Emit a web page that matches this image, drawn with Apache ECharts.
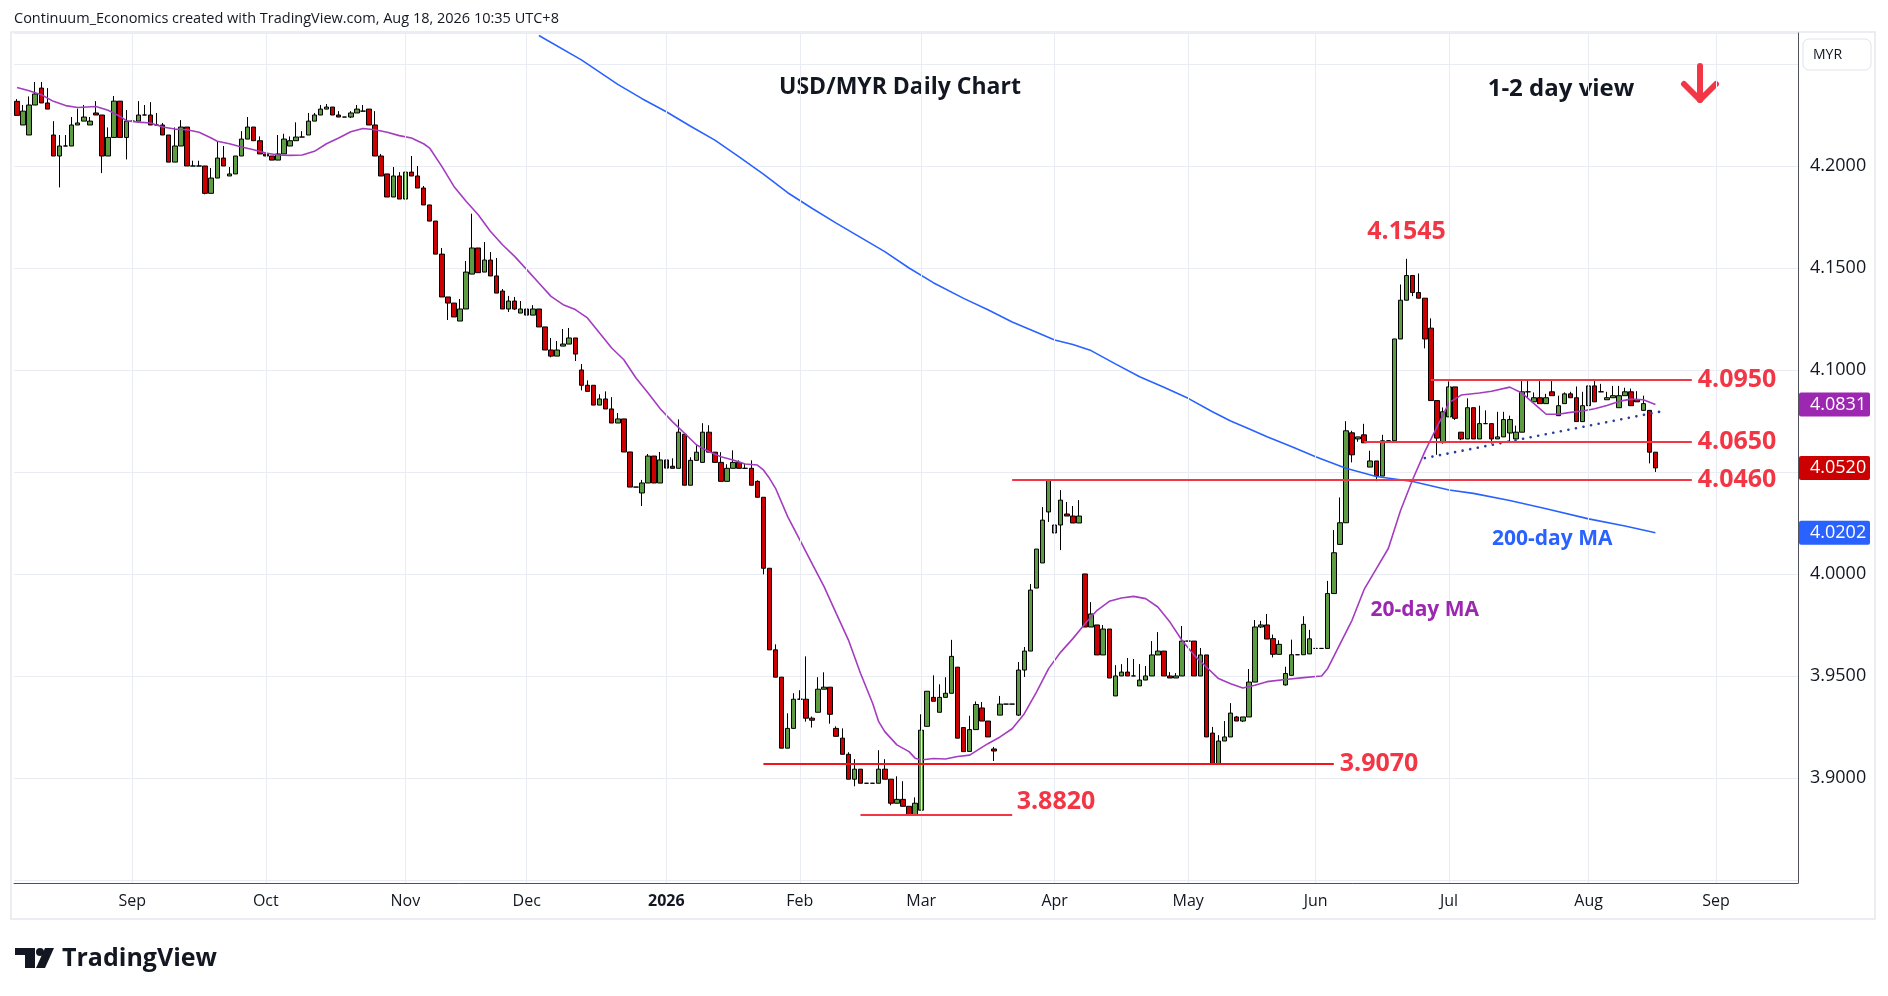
<!DOCTYPE html>
<html>
<head>
<meta charset="utf-8">
<title>USD/MYR Daily Chart</title>
<script src="https://cdn.jsdelivr.net/npm/echarts@6/dist/echarts.min.js"></script>
<style>
  html, body { margin: 0; padding: 0; background: #fff; }
  #chart { width: 1888px; height: 996px; }
</style>
</head>
<body>
<div id="chart"></div>
<script>
// weekday sessions, first bar 2025-08-05, slots run on past the last bar
const firstDay = [2025, 7, 5]
const slotCount = 294
const dates = []
;(function () {
  const d = new Date(Date.UTC(firstDay[0], firstDay[1], firstDay[2]))
  while (dates.length < slotCount) {
    const w = d.getUTCDay()
    if (w !== 0 && w !== 6) dates.push(d.toISOString().slice(0, 10))
    d.setUTCDate(d.getUTCDate() + 1)
  }
})()

const monthNames = ['Jan', 'Feb', 'Mar', 'Apr', 'May', 'Jun', 'Jul', 'Aug', 'Sep', 'Oct', 'Nov', 'Dec']

// daily bars: [open, high, low, close]
const ohlc = [
  // Aug 2025
  [4.2317, 4.2328, 4.2248, 4.2248], [4.2201, 4.2299, 4.2201, 4.2269], [4.2152, 4.2341, 4.2152, 4.2299],
  [4.2299, 4.2412, 4.2299, 4.2353], [4.2382, 4.2412, 4.2309, 4.2309], [4.2309, 4.2382, 4.2279, 4.2279],
  [4.2152, 4.2220, 4.2049, 4.2049], [4.2049, 4.2152, 4.1895, 4.2098], [4.2098, 4.2152, 4.2098, 4.2098],
  [4.2098, 4.2240, 4.2098, 4.2201], [4.2201, 4.2281, 4.2201, 4.2211], [4.2220, 4.2299, 4.2220, 4.2240],
  [4.2201, 4.2240, 4.2201, 4.2220], [4.2260, 4.2318, 4.2250, 4.2250], [4.2250, 4.2250, 4.1965, 4.2049],
  [4.2049, 4.2189, 4.2049, 4.2140], [4.2140, 4.2343, 4.2140, 4.2318], [4.2318, 4.2318, 4.2140, 4.2140],
  [4.2140, 4.2274, 4.2032, 4.2220],
  // Sep
  [4.2220, 4.2230, 4.2220, 4.2220], [4.2220, 4.2318, 4.2220, 4.2250], [4.2250, 4.2299, 4.2250, 4.2250],
  [4.2250, 4.2313, 4.2201, 4.2201], [4.2201, 4.2260, 4.2201, 4.2201], [4.2201, 4.2211, 4.2152, 4.2152],
  [4.2152, 4.2152, 4.2019, 4.2019], [4.2019, 4.2189, 4.2019, 4.2098], [4.2098, 4.2225, 4.2098, 4.2191],
  [4.2191, 4.2191, 4.2000, 4.2000], [4.2000, 4.2026, 4.2000, 4.2000], [4.2000, 4.2026, 4.2000, 4.2000],
  [4.2000, 4.2000, 4.1861, 4.1866], [4.1866, 4.1990, 4.1866, 4.1941], [4.1941, 4.2119, 4.1941, 4.2039],
  [4.2039, 4.2098, 4.2000, 4.2000], [4.1951, 4.1995, 4.1951, 4.1961], [4.1961, 4.2049, 4.1961, 4.2049],
  [4.2049, 4.2171, 4.2049, 4.2132], [4.2132, 4.2240, 4.2132, 4.2191], [4.2191, 4.2191, 4.2124, 4.2124],
  [4.2124, 4.2145, 4.2059, 4.2059],
  // Oct
  [4.2059, 4.2059, 4.2049, 4.2049], [4.2049, 4.2049, 4.2029, 4.2029], [4.2029, 4.2152, 4.2029, 4.2059],
  [4.2059, 4.2158, 4.2059, 4.2132], [4.2098, 4.2145, 4.2098, 4.2124], [4.2124, 4.2214, 4.2124, 4.2142],
  [4.2142, 4.2171, 4.2142, 4.2142], [4.2152, 4.2260, 4.2152, 4.2220], [4.2220, 4.2260, 4.2220, 4.2250],
  [4.2250, 4.2299, 4.2250, 4.2279], [4.2279, 4.2304, 4.2279, 4.2289], [4.2289, 4.2289, 4.2250, 4.2250],
  [4.2250, 4.2269, 4.2240, 4.2240], [4.2240, 4.2240, 4.2240, 4.2240], [4.2240, 4.2269, 4.2235, 4.2260],
  [4.2260, 4.2299, 4.2260, 4.2279], [4.2269, 4.2299, 4.2269, 4.2269], [4.2279, 4.2279, 4.2201, 4.2201],
  [4.2201, 4.2269, 4.2049, 4.2049], [4.2049, 4.2059, 4.1951, 4.1951], [4.1961, 4.1961, 4.1848, 4.1848],
  [4.1848, 4.1995, 4.1848, 4.1951], [4.1951, 4.1970, 4.1838, 4.1838],
  // Nov
  [4.1838, 4.1990, 4.1838, 4.1970], [4.1970, 4.2049, 4.1951, 4.1951], [4.1951, 4.2000, 4.1892, 4.1892],
  [4.1892, 4.1902, 4.1809, 4.1809], [4.1809, 4.1809, 4.1730, 4.1730], [4.1730, 4.1730, 4.1568, 4.1568],
  [4.1568, 4.1598, 4.1358, 4.1358], [4.1358, 4.1358, 4.1245, 4.1328], [4.1328, 4.1328, 4.1260, 4.1260],
  [4.1240, 4.1348, 4.1240, 4.1299], [4.1299, 4.1534, 4.1299, 4.1480], [4.1470, 4.1766, 4.1470, 4.1598],
  [4.1598, 4.1598, 4.1477, 4.1477], [4.1480, 4.1627, 4.1480, 4.1539], [4.1539, 4.1578, 4.1461, 4.1461],
  [4.1461, 4.1549, 4.1377, 4.1377], [4.1387, 4.1397, 4.1299, 4.1299], [4.1299, 4.1363, 4.1284, 4.1338],
  [4.1338, 4.1358, 4.1294, 4.1299], [4.1279, 4.1338, 4.1279, 4.1299],
  // Dec
  [4.1299, 4.1338, 4.1269, 4.1269], [4.1269, 4.1318, 4.1269, 4.1299], [4.1299, 4.1299, 4.1211, 4.1211],
  [4.1211, 4.1211, 4.1098, 4.1098], [4.1098, 4.1157, 4.1062, 4.1068], [4.1068, 4.1142, 4.1068, 4.1098],
  [4.1117, 4.1201, 4.1117, 4.1127], [4.1127, 4.1206, 4.1127, 4.1157], [4.1157, 4.1157, 4.1044, 4.1078],
  [4.1000, 4.1029, 4.0900, 4.0925], [4.0925, 4.0949, 4.0895, 4.0895], [4.0925, 4.0925, 4.0828, 4.0828],
  [4.0828, 4.0881, 4.0828, 4.0858], [4.0858, 4.0895, 4.0809, 4.0809], [4.0809, 4.0867, 4.0740, 4.0740],
  [4.0740, 4.0789, 4.0740, 4.0760], [4.0760, 4.0760, 4.0598, 4.0598], [4.0598, 4.0598, 4.0426, 4.0426],
  [4.0426, 4.0426, 4.0426, 4.0426], [4.0397, 4.0461, 4.0333, 4.0446], [4.0446, 4.0588, 4.0446, 4.0578],
  [4.0578, 4.0578, 4.0446, 4.0446], [4.0446, 4.0598, 4.0446, 4.0559],
  // Jan 2026
  [4.0559, 4.0559, 4.0519, 4.0519], [4.0528, 4.0567, 4.0518, 4.0518], [4.0518, 4.0758, 4.0518, 4.0695],
  [4.0685, 4.0685, 4.0435, 4.0435], [4.0435, 4.0572, 4.0435, 4.0557], [4.0557, 4.0636, 4.0557, 4.0597],
  [4.0547, 4.0739, 4.0547, 4.0695], [4.0695, 4.0729, 4.0597, 4.0597], [4.0597, 4.0597, 4.0547, 4.0547],
  [4.0547, 4.0597, 4.0454, 4.0454], [4.0454, 4.0538, 4.0454, 4.0518], [4.0518, 4.0606, 4.0518, 4.0547],
  [4.0547, 4.0557, 4.0518, 4.0518], [4.0518, 4.0543, 4.0518, 4.0518], [4.0518, 4.0557, 4.0435, 4.0435],
  [4.0454, 4.0459, 4.0376, 4.0376], [4.0376, 4.0376, 3.9998, 4.0028], [4.0028, 4.0028, 3.9628, 3.9628],
  [3.9628, 3.9655, 3.9494, 3.9494], [3.9494, 3.9494, 3.9146, 3.9146], [3.9146, 3.9317, 3.9146, 3.9243],
  [3.9243, 3.9415, 3.9243, 3.9386],
  // Feb
  [3.9386, 3.9430, 3.9386, 3.9386], [3.9386, 3.9596, 3.9276, 3.9293], [3.9293, 3.9301, 3.9247, 3.9283],
  [3.9322, 3.9494, 3.9322, 3.9435], [3.9435, 3.9518, 3.9435, 3.9445], [3.9445, 3.9445, 3.9266, 3.9312],
  [3.9243, 3.9253, 3.9204, 3.9204], [3.9195, 3.9243, 3.9116, 3.9116], [3.9116, 3.9126, 3.8994, 3.8994],
  [3.8994, 3.9092, 3.8959, 3.9043], [3.9043, 3.9043, 3.8974, 3.8974], [3.8974, 3.8974, 3.8974, 3.8974],
  [3.8974, 3.8974, 3.8974, 3.8974], [3.8974, 3.9136, 3.8974, 3.9043], [3.9043, 3.9092, 3.8994, 3.8994],
  [3.8994, 3.8994, 3.8866, 3.8876], [3.8876, 3.9008, 3.8876, 3.8895], [3.8895, 3.8984, 3.8861, 3.8861],
  [3.8861, 3.8861, 3.8820, 3.8820], [3.8820, 3.8905, 3.8820, 3.8876],
  // Mar
  [3.8842, 3.9312, 3.8842, 3.9234], [3.9253, 3.9425, 3.9253, 3.9425], [3.9395, 3.9503, 3.9376, 3.9376],
  [3.9322, 3.9459, 3.9322, 3.9395], [3.9395, 3.9494, 3.9395, 3.9415], [3.9415, 3.9677, 3.9415, 3.9596],
  [3.9543, 3.9543, 3.9195, 3.9195], [3.9247, 3.9247, 3.9129, 3.9129], [3.9130, 3.9305, 3.9130, 3.9237],
  [3.9237, 3.9375, 3.9237, 3.9360], [3.9343, 3.9372, 3.9279, 3.9279], [3.9279, 3.9279, 3.9201, 3.9201],
  [3.9142, 3.9152, 3.9083, 3.9132], [3.9308, 3.9402, 3.9308, 3.9362], [3.9362, 3.9362, 3.9362, 3.9362],
  [3.9362, 3.9362, 3.9362, 3.9362], [3.9308, 3.9568, 3.9304, 3.9529], [3.9529, 3.9642, 3.9495, 3.9622],
  [3.9622, 3.9951, 3.9622, 3.9921], [3.9931, 4.0122, 3.9931, 4.0122], [4.0054, 4.0328, 4.0054, 4.0264],
  [4.0304, 4.0460, 4.0255, 4.0460],
  // Apr
  [4.0201, 4.0382, 4.0201, 4.0240], [4.0240, 4.0411, 4.0117, 4.0362], [4.0294, 4.0353, 4.0284, 4.0284],
  [4.0284, 4.0333, 4.0250, 4.0250], [4.0250, 4.0362, 4.0250, 4.0284], [4.0000, 4.0000, 3.9740, 3.9740],
  [3.9740, 3.9862, 3.9740, 3.9804], [3.9750, 3.9750, 3.9603, 3.9603], [3.9603, 3.9750, 3.9603, 3.9730],
  [3.9730, 3.9730, 3.9490, 3.9490], [3.9402, 3.9553, 3.9402, 3.9500], [3.9500, 3.9558, 3.9500, 3.9519],
  [3.9519, 3.9588, 3.9500, 3.9500], [3.9500, 3.9583, 3.9500, 3.9500], [3.9451, 3.9558, 3.9451, 3.9480],
  [3.9480, 3.9549, 3.9480, 3.9500], [3.9500, 3.9671, 3.9500, 3.9603], [3.9603, 3.9715, 3.9603, 3.9622],
  [3.9622, 3.9622, 3.9500, 3.9500], [3.9500, 3.9519, 3.9490, 3.9490], [3.9490, 3.9514, 3.9490, 3.9500],
  [3.9500, 3.9745, 3.9500, 3.9671],
  // May
  [3.9671, 3.9671, 3.9671, 3.9671], [3.9671, 3.9671, 3.9500, 3.9500], [3.9500, 3.9637, 3.9500, 3.9603],
  [3.9603, 3.9603, 3.9201, 3.9201], [3.9220, 3.9250, 3.9068, 3.9068], [3.9068, 3.9210, 3.9068, 3.9181],
  [3.9181, 3.9279, 3.9181, 3.9201], [3.9201, 3.9367, 3.9201, 3.9318], [3.9299, 3.9304, 3.9279, 3.9279],
  [3.9279, 3.9299, 3.9274, 3.9299], [3.9299, 3.9534, 3.9299, 3.9470], [3.9470, 3.9774, 3.9470, 3.9740],
  [3.9740, 3.9770, 3.9735, 3.9750], [3.9750, 3.9804, 3.9681, 3.9681], [3.9683, 3.9703, 3.9591, 3.9606],
  [3.9606, 3.9675, 3.9606, 3.9655], [3.9456, 3.9545, 3.9453, 3.9512], [3.9503, 3.9678, 3.9503, 3.9604],
  [3.9604, 3.9604, 3.9604, 3.9604], [3.9604, 3.9793, 3.9604, 3.9753], [3.9608, 3.9726, 3.9608, 3.9682],
  // Jun
  [3.9635, 3.9635, 3.9635, 3.9635], [3.9635, 3.9635, 3.9635, 3.9635], [3.9635, 3.9966, 3.9635, 3.9904],
  [3.9904, 4.0215, 3.9904, 4.0104], [4.0145, 4.0375, 4.0145, 4.0251], [4.0251, 4.0749, 4.0251, 4.0702],
  [4.0692, 4.0702, 4.0547, 4.0584], [4.0662, 4.0672, 4.0648, 4.0672], [4.0682, 4.0736, 4.0643, 4.0643],
  [4.0524, 4.0604, 4.0524, 4.0554], [4.0554, 4.0554, 4.0455, 4.0480], [4.0480, 4.0682, 4.0480, 4.0653],
  [4.0653, 4.0653, 4.0653, 4.0653], [4.0653, 4.1152, 4.0653, 4.1152], [4.1152, 4.1419, 4.1152, 4.1342],
  [4.1342, 4.1545, 4.1342, 4.1463], [4.1463, 4.1463, 4.1362, 4.1380], [4.1380, 4.1473, 4.1352, 4.1352],
  [4.1352, 4.1352, 4.1106, 4.1152], [4.1205, 4.1253, 4.0850, 4.0850], [4.0850, 4.0850, 4.0584, 4.0666],
  [4.0644, 4.0816, 4.0639, 4.0795],
  // Jul
  [4.0770, 4.0944, 4.0770, 4.0917], [4.0917, 4.0917, 4.0755, 4.0763], [4.0695, 4.0695, 4.0656, 4.0662],
  [4.0662, 4.0861, 4.0662, 4.0815], [4.0815, 4.0815, 4.0662, 4.0662], [4.0662, 4.0825, 4.0662, 4.0737],
  [4.0737, 4.0802, 4.0737, 4.0737], [4.0737, 4.0737, 4.0639, 4.0662], [4.0662, 4.0795, 4.0662, 4.0672],
  [4.0672, 4.0795, 4.0672, 4.0757], [4.0691, 4.0776, 4.0648, 4.0757], [4.0662, 4.0727, 4.0662, 4.0695],
  [4.0695, 4.0948, 4.0695, 4.0893], [4.0893, 4.0948, 4.0864, 4.0893], [4.0844, 4.0890, 4.0844, 4.0864],
  [4.0864, 4.0948, 4.0835, 4.0835], [4.0835, 4.0883, 4.0835, 4.0864], [4.0893, 4.0948, 4.0874, 4.0874],
  [4.0776, 4.0874, 4.0776, 4.0825], [4.0835, 4.0890, 4.0835, 4.0883], [4.0883, 4.0893, 4.0864, 4.0864],
  [4.0864, 4.0919, 4.0747, 4.0747], [4.0747, 4.0893, 4.0747, 4.0825],
  // Aug
  [4.0825, 4.0948, 4.0825, 4.0922], [4.0922, 4.0955, 4.0844, 4.0844], [4.0893, 4.0932, 4.0893, 4.0893],
  [4.0854, 4.0893, 4.0854, 4.0864], [4.0864, 4.0922, 4.0864, 4.0874], [4.0815, 4.0922, 4.0815, 4.0874],
  [4.0874, 4.0913, 4.0874, 4.0893], [4.0893, 4.0909, 4.0825, 4.0825], [4.0854, 4.0896, 4.0844, 4.0844],
  [4.0802, 4.0874, 4.0802, 4.0835], [4.0802, 4.0802, 4.0542, 4.0597], [4.0597, 4.0597, 4.0500, 4.0520]
]

// 20-day MA: [bar index, value]
const ma20 = [
  [0, 4.2385], [2, 4.2369], [4, 4.2349], [6, 4.2317], [8, 4.2296], [10, 4.2287], [13, 4.2292],
  [15, 4.2273], [17, 4.2243], [18, 4.2222], [20, 4.2215], [22, 4.2211], [24, 4.2191], [26, 4.2181],
  [28, 4.2178], [30, 4.2165], [32, 4.2137], [33, 4.2121], [35, 4.2109], [37, 4.2093], [39, 4.2080],
  [41, 4.2064], [43, 4.2054], [45, 4.2052], [47, 4.2054], [49, 4.2072], [51, 4.2109], [53, 4.2137],
  [55, 4.2168], [57, 4.2184], [59, 4.2178], [61, 4.2165], [63, 4.2149], [65, 4.2137], [67, 4.2109],
  [68, 4.2088], [70, 4.1998], [72, 4.1900], [74, 4.1827], [76, 4.1761], [78, 4.1680], [80, 4.1614],
  [82, 4.1557], [84, 4.1492], [86, 4.1426], [88, 4.1361], [90, 4.1320], [92, 4.1296], [94, 4.1255],
  [96, 4.1181], [98, 4.1108], [100, 4.1050], [102, 4.0961], [104, 4.0887], [106, 4.0810], [108, 4.0747],
  [110, 4.0690], [112, 4.0632], [114, 4.0600], [116, 4.0575], [118, 4.0559], [120, 4.0539], [122, 4.0534],
  [123, 4.0510], [124, 4.0469], [125, 4.0420], [127, 4.0281], [129, 4.0167], [131, 4.0052], [133, 3.9938],
  [135, 3.9807], [137, 3.9677], [139, 3.9513], [141, 3.9366], [142, 3.9276], [143, 3.9227], [145, 3.9162],
  [147, 3.9129], [148, 3.9097], [149, 3.9088], [151, 3.9095], [153, 3.9093], [155, 3.9105], [157, 3.9112],
  [159, 3.9150], [160, 3.9168], [162, 3.9201], [164, 3.9241], [166, 3.9315], [168, 3.9421], [170, 3.9536],
  [172, 3.9617], [174, 3.9683], [176, 3.9756], [178, 3.9822], [180, 3.9866], [182, 3.9882], [184, 3.9890],
  [186, 3.9879], [188, 3.9838], [190, 3.9764], [192, 3.9674], [194, 3.9601], [196, 3.9544], [198, 3.9487],
  [200, 3.9462], [202, 3.9441], [204, 3.9454], [206, 3.9472], [209, 3.9483], [212, 3.9492], [215, 3.9500],
  [216, 3.9537], [218, 3.9655], [220, 3.9773], [222, 3.9924], [224, 4.0025], [226, 4.0126], [228, 4.0311],
  [230, 4.0463], [232, 4.0600], [234, 4.0720], [236, 4.0840], [238, 4.0877], [241, 4.0887], [243, 4.0896],
  [246, 4.0916], [248, 4.0887], [250, 4.0835], [252, 4.0783], [254, 4.0783], [256, 4.0792], [258, 4.0799],
  [260, 4.0810], [262, 4.0826], [264, 4.0846], [266, 4.0857], [268, 4.0854], [270, 4.0831]
]

// 200-day MA
const ma200 = [
  [86, 4.2640], [93, 4.2520], [99, 4.2400], [103, 4.2330], [107, 4.2266], [111, 4.2195], [115, 4.2127],
  [119, 4.2045], [123, 4.1960], [127, 4.1869], [131, 4.1793], [135, 4.1720], [139, 4.1650], [143, 4.1580],
  [147, 4.1500], [151, 4.1428], [156, 4.1351], [160, 4.1295], [164, 4.1235], [168, 4.1185], [171, 4.1147],
  [174, 4.1125], [177, 4.1095], [181, 4.1030], [185, 4.0967], [189, 4.0915], [193, 4.0861], [197, 4.0795],
  [200, 4.0750], [203, 4.0712], [206, 4.0673], [210, 4.0625], [214, 4.0575], [219, 4.0518], [224, 4.0478],
  [230, 4.0453], [236, 4.0412], [240, 4.0395], [246, 4.0360], [252, 4.0320], [259, 4.0270], [265, 4.0235],
  [270, 4.0202]
]

// dotted rising support
const trendline = [[232, 4.0568], [271, 4.0797]]

// drawn levels: price, first and last bar index of the line
const levelPrices = [4.0950, 4.0650, 4.0460, 3.9070, 3.8820]
const levelFrom = [233, 222, 164, 123, 139]
const levelTo = [276, 276, 276, 217, 164]

const swingHigh = { index: 229, price: 4.1545 }
const maNotes = [
  { text: '20-day MA', index: 232, price: 3.9824 },
  { text: '200-day MA', index: 253, price: 4.0172 }
]

const lastClose = ohlc[ohlc.length - 1][3]
const lastMa20 = ma20[ma20.length - 1][1]
const lastMa200 = ma200[ma200.length - 1][1]

// ---- styling
const FONT = '"Open Sans", "Noto Sans", sans-serif'
const INK = '#131722'
const RED = '#f23645'
const UP = '#5d9c42'
const DOWN = '#cc0000'
const PURPLE = '#9c27b0'
const BLUE = '#2962ff'
const GRID = '#e9edf3'
const hiddenTicks = [4.25, 4.05, 3.85]

const monthStarts = []
dates.forEach((d, i) => {
  if (i > 0 && d.slice(5, 7) !== dates[i - 1].slice(5, 7)) monthStarts.push(i)
})
const monthSet = new Set(monthStarts)

const candleData = ohlc.map(([o, h, l, c]) => [o, c, l, h])

// the lowest level carries its price tag raised above the line end
const lowLevel = Math.min.apply(null, levelPrices)

const levelText = {
  color: RED,
  fontFamily: FONT,
  fontSize: 25,
  fontWeight: 'bold'
}

const levelLines = levelPrices.map((p, k) => [
  {
    coord: [dates[levelFrom[k]], p],
    lineStyle: { color: p === 3.907 ? '#f5141b' : RED, width: 2, type: 'solid' },
    label: Object.assign({
      show: p !== lowLevel,
      position: 'end',
      distance: 6,
      formatter: p.toFixed(4)
    }, levelText)
  },
  { coord: [dates[levelTo[k]], p] }
])

const notePoints = [
  {
    coord: [dates[swingHigh.index], swingHigh.price],
    label: Object.assign({ formatter: swingHigh.price.toFixed(4), offset: [0, -27] }, levelText)
  },
  {
    coord: [dates[levelTo[levelPrices.indexOf(lowLevel)]], lowLevel],
    label: Object.assign({ formatter: lowLevel.toFixed(4), position: 'right', distance: 4, offset: [0, -13] }, levelText)
  }
].concat(maNotes.map((n, k) => ({
  coord: [dates[n.index], n.price],
  label: { formatter: n.text, color: k === 0 ? PURPLE : BLUE, fontSize: 21, fontWeight: 'bold' }
})))

const option = {
  animation: false,
  backgroundColor: '#ffffff',
  textStyle: { fontFamily: FONT },
  grid: { left: 14, right: 90, top: 33, bottom: 113 },
  xAxis: {
    type: 'category',
    data: dates,
    boundaryGap: true,
    axisLine: { lineStyle: { color: '#50535e', width: 1 } },
    axisTick: { show: false },
    splitLine: { show: false },
    axisLabel: {
      interval: (i) => monthSet.has(i),
      formatter: (v) => {
        const m = +v.slice(5, 7) - 1
        return m === 0 ? '{y|' + v.slice(0, 4) + '}' : monthNames[m]
      },
      color: INK,
      fontFamily: FONT,
      fontSize: 16,
      margin: 10,
      rich: { y: { fontFamily: FONT, fontSize: 16, fontWeight: 'bold', color: INK } }
    }
  },
  yAxis: {
    type: 'value',
    position: 'right',
    min: 3.8485,
    max: 4.2652,
    splitNumber: 8,
    minInterval: 0.05,
    maxInterval: 0.05,
    axisLine: { show: true, lineStyle: { color: '#50535e', width: 1 } },
    axisTick: { show: false },
    splitLine: { lineStyle: { color: GRID, width: 1 } },
    axisLabel: {
      showMinLabel: false,
      showMaxLabel: false,
      color: INK,
      fontFamily: FONT,
      fontSize: 18,
      margin: 12,
      formatter: (v) => {
        const k = Math.round(v / 0.05)
        if (Math.abs(v - k * 0.05) > 1e-6) return ''
        if (hiddenTicks.some((h) => Math.abs(h - v) < 1e-6)) return ''
        return v.toFixed(4)
      }
    }
  },
  series: [
    {
      name: 'month grid',
      type: 'line',
      data: [],
      z: 1,
      silent: true,
      markLine: {
        silent: true,
        symbol: ['none', 'none'],
        label: { show: false },
        lineStyle: { color: GRID, width: 1, type: 'solid' },
        data: monthStarts.map((i) => ({ xAxis: dates[i] }))
      }
    },
    {
      name: 'USD/MYR',
      type: 'candlestick',
      data: candleData,
      barWidth: 5,
      z: 3,
      itemStyle: {
        color: UP,
        color0: DOWN,
        borderColor: '#000',
        borderColor0: '#000',
        borderColorDoji: '#000',
        borderWidth: 1
      }
    },
    {
      name: '200-day MA',
      type: 'line',
      data: ma200,
      z: 4,
      showSymbol: false,
      symbol: 'none',
      lineStyle: { color: BLUE, width: 1.6 }
    },
    {
      name: '20-day MA',
      type: 'line',
      data: ma20,
      z: 4,
      showSymbol: false,
      symbol: 'none',
      lineStyle: { color: '#a43cc0', width: 1.6 }
    },
    {
      name: 'trend',
      type: 'line',
      data: trendline,
      z: 4,
      showSymbol: false,
      symbol: 'none',
      lineStyle: { color: '#2a3f9d', width: 2.6, type: [0.1, 7.6], cap: 'round' }
    },
    {
      name: 'levels',
      type: 'line',
      data: [],
      z: 5,
      markLine: { silent: true, symbol: ['none', 'none'], data: levelLines },
      markPoint: {
        silent: true,
        symbol: 'rect',
        symbolSize: 1,
        itemStyle: { color: 'rgba(0,0,0,0)' },
        label: { show: true, position: 'inside', fontFamily: FONT },
        data: notePoints
      }
    }
  ]
}

const chart = echarts.init(document.getElementById('chart'), null, { renderer: 'canvas' })
chart.setOption(option)

// tags on the price scale for the last close and both averages
function priceTag (value, fill) {
  const y = chart.convertToPixel({ yAxisIndex: 0 }, value)
  return {
    type: 'group',
    children: [
      { type: 'rect', shape: { x: 1799, y: y - 12, width: 71, height: 24, r: 2 }, style: { fill: fill } },
      {
        type: 'text',
        style: {
          x: 1810, y: y, text: value.toFixed(4), fill: '#fff',
          font: '18px ' + FONT, textVerticalAlign: 'middle'
        }
      }
    ]
  }
}

const graphics = [
  {
    type: 'rect',
    shape: { x: 11, y: 32, width: 1864, height: 887 },
    style: { fill: 'none', stroke: '#e6e8ee', lineWidth: 1.5 },
    z: -1
  },
  {
    type: 'text',
    style: {
      x: 14, y: 19, text: 'Continuum_Economics created with TradingView.com, Aug 18, 2026 10:35 UTC+8',
      fill: INK, font: '14.5px ' + FONT, textVerticalAlign: 'middle'
    }
  },
  {
    type: 'text',
    style: {
      x: 900, y: 87, text: 'USD/MYR Daily Chart', fill: INK,
      font: 'bold 23px ' + FONT, textAlign: 'center', textVerticalAlign: 'middle'
    }
  },
  {
    type: 'text',
    style: {
      x: 1561, y: 89, text: '1-2 day view', fill: INK,
      font: 'bold 24px ' + FONT, textAlign: 'center', textVerticalAlign: 'middle'
    }
  },
  {
    type: 'polyline',
    shape: { points: [[1700, 66], [1700, 100]] },
    style: { stroke: RED, lineWidth: 6, lineCap: 'round', fill: 'none' }
  },
  {
    type: 'polyline',
    shape: { points: [[1684, 84], [1700, 100], [1716, 84]] },
    style: { stroke: RED, lineWidth: 6, lineCap: 'round', lineJoin: 'round', fill: 'none' }
  },
  {
    type: 'rect',
    shape: { x: 1803, y: 39, width: 68, height: 31, r: 6 },
    style: { fill: '#fff', stroke: '#e0e3eb', lineWidth: 1 }
  },
  {
    type: 'text',
    style: { x: 1813, y: 55, text: 'MYR', fill: INK, font: '14px ' + FONT, textVerticalAlign: 'middle' }
  },
  priceTag(lastMa20, PURPLE),
  priceTag(lastClose, DOWN),
  priceTag(lastMa200, BLUE),
  // TradingView mark
  { type: 'rect', shape: { x: 15, y: 948, width: 20, height: 7 }, style: { fill: INK } },
  { type: 'rect', shape: { x: 25, y: 948, width: 10, height: 20 }, style: { fill: INK } },
  { type: 'circle', shape: { cx: 40, cy: 952, r: 4 }, style: { fill: INK } },
  { type: 'polygon', shape: { points: [[45, 948], [54, 948], [45, 968], [36, 968]] }, style: { fill: INK } },
  {
    type: 'text',
    style: { x: 62, y: 959, text: 'TradingView', fill: INK, font: 'bold 25px ' + FONT, textVerticalAlign: 'middle' }
  }
]

chart.setOption({ graphic: graphics })
</script>
</body>
</html>
